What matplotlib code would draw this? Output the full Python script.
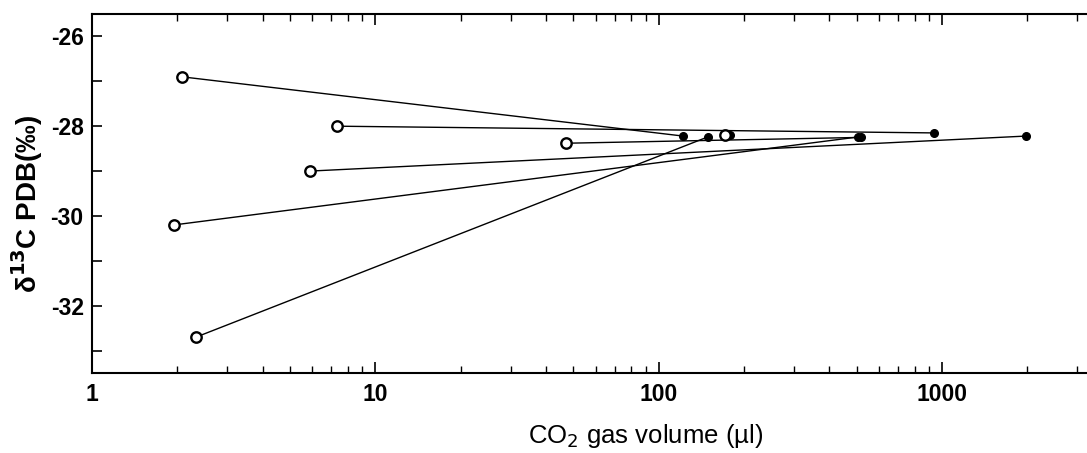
import matplotlib.pyplot as plt
import matplotlib.ticker as mticker

plt.rcParams['font.family'] = ['Liberation Sans', 'DejaVu Sans']

# small-volume runs (open circles) and large-volume runs (filled dots), paired by sample
small_vol = [2.08, 7.34, 5.9, 1.95, 2.33, 47, 171]
small_d13c = [-26.9, -28.0, -29.0, -30.2, -32.7, -28.38, -28.2]
large_vol = [122, 938, 1982, 506, 149, 518, 179]
large_d13c = [-28.22, -28.15, -28.22, -28.24, -28.24, -28.25, -28.2]

fig = plt.figure(figsize=(10.87, 4.53), dpi=100)
ax = fig.add_axes([92 / 1087, 1 - 373 / 453, 995 / 1087, 359 / 453])

for xs, ys, xl, yl in zip(small_vol, small_d13c, large_vol, large_d13c):
    ax.plot([xs, xl], [ys, yl], color='black', lw=1.0, zorder=1)
ax.plot(large_vol, large_d13c, 'o', color='black', ms=5.5, zorder=3)
ax.plot(small_vol, small_d13c, 'o', mfc='white', mec='black', mew=1.7, ms=7.5, zorder=3)

ax.set_xscale('log')
ax.set_xlim(1, 3250)
ax.set_ylim(-33.5, -25.5)
ax.xaxis.set_major_locator(mticker.FixedLocator([1, 10, 100, 1000]))
ax.xaxis.set_major_formatter(mticker.FixedFormatter(['1', '10', '100', '1000']))
ax.xaxis.set_minor_locator(mticker.LogLocator(base=10, subs=range(2, 10)))
ax.xaxis.set_minor_formatter(mticker.NullFormatter())
ax.yaxis.set_major_locator(mticker.MultipleLocator(2))
ax.yaxis.set_minor_locator(mticker.MultipleLocator(1))
ax.yaxis.set_major_formatter(mticker.FuncFormatter(lambda v, p: '%d' % v))

ax.tick_params(axis='x', which='both', direction='in', top=True, bottom=True)
ax.tick_params(axis='x', which='major', length=8, width=1.2, labelsize=16.5, pad=7)
ax.tick_params(axis='x', which='minor', length=5, width=1)
ax.tick_params(axis='y', which='both', direction='in', length=7, width=1.2, labelsize=16.5, pad=6)
for lab in ax.get_xticklabels() + ax.get_yticklabels():
    lab.set_fontweight('bold')

ax.spines['right'].set_visible(False)
for s in ['left', 'bottom', 'top']:
    ax.spines[s].set_linewidth(1.5)

ax.set_xlabel('CO$_2$ gas volume (µl)', fontsize=18.5, labelpad=12)
ax.xaxis.label.set_x(0.556)
ax.set_ylabel('δ$^{\\mathbf{13}}$C PDB(‰)', fontsize=20, fontweight='bold', labelpad=4)
ax.yaxis.label.set_y(0.47)

fig.savefig('out.png', dpi=100)
